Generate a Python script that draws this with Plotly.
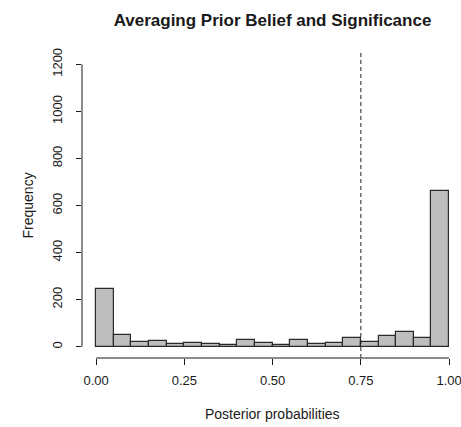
import plotly.graph_objects as go

bin_left = [0.00, 0.05, 0.10, 0.15, 0.20, 0.25, 0.30, 0.35, 0.40, 0.45,
            0.50, 0.55, 0.60, 0.65, 0.70, 0.75, 0.80, 0.85, 0.90, 0.95]
counts = [245, 51, 21, 24, 11, 16, 11, 7, 28, 16,
          9, 28, 12, 16, 38, 19, 46, 61, 35, 662]
bin_width = 0.05
threshold = 0.75

x_ticks = [0.0, 0.25, 0.5, 0.75, 1.0]
x_ticklabels = ["0.00", "0.25", "0.50", "0.75", "1.00"]
y_ticks = [0, 200, 400, 600, 800, 1000, 1200]

FONT = "Liberation Sans, Arial, sans-serif"
INK = "#1a1a1a"

fig = go.Figure()
fig.add_trace(go.Bar(
    x=bin_left, y=counts, width=[bin_width] * len(bin_left), offset=0,
    marker=dict(color="#bebebe", line=dict(color="#2a2a2a", width=1.2)),
    showlegend=False, hoverinfo="y",
))

W, H = 461, 427
ml, mr, mt = 82, 0, 53
mb = H - 358
pw = W - ml - mr
ph = H - mt - mb
px_per_unit = 353.0
x0 = -0.04
fig.update_layout(
    width=W, height=H,
    margin=dict(l=ml, r=mr, t=mt, b=mb, pad=0, autoexpand=False),
    paper_bgcolor="white", plot_bgcolor="white",
    bargap=0,
    font=dict(family=FONT, color=INK, size=13),
    title=dict(text="<b>Averaging Prior Belief and Significance</b>",
               x=272.5 / W, xanchor="center", xref="container",
               y=1 - 20 / H, yanchor="middle", yref="container", automargin=False,
               font=dict(size=17, family=FONT, color=INK)),
    xaxis=dict(range=[x0, x0 + pw / px_per_unit], tickvals=x_ticks, ticktext=x_ticklabels,
               showgrid=False, zeroline=False, showline=False, automargin=False,
               ticks="outside", ticklen=6, tickwidth=1, tickcolor=INK,
               ticklabelstandoff=4, ticklabeloverflow="allow", tickfont=dict(size=13)),
    yaxis=dict(range=[-48, 1248], tickvals=y_ticks,
               showgrid=False, zeroline=False, showline=False, automargin=False,
               ticks="outside", ticklen=5, tickwidth=1, tickcolor=INK,
               tickangle=-90, ticklabelstandoff=9, ticklabeloverflow="allow",
               tickfont=dict(size=13)),
    annotations=[
        dict(text="Posterior probabilities", xref="paper", yref="paper",
             x=(272.5 - ml) / pw, y=-(414 - 358) / ph, xanchor="center", yanchor="middle",
             showarrow=False, font=dict(size=14)),
        dict(text="Frequency", xref="paper", yref="paper",
             x=-(ml - 27) / pw, y=0.5, xanchor="center", yanchor="middle",
             textangle=-90, showarrow=False, font=dict(size=14)),
    ],
    shapes=[
        dict(type="line", xref="x", yref="paper", x0=x_ticks[0], x1=x_ticks[-1], y0=0, y1=0,
             line=dict(color=INK, width=1)),
        dict(type="line", xref="paper", yref="y", x0=0, x1=0, y0=y_ticks[0], y1=y_ticks[-1],
             line=dict(color=INK, width=1)),
        dict(type="line", xref="x", yref="paper", x0=threshold, x1=threshold, y0=0, y1=1,
             line=dict(color="#222222", width=1, dash="4px,3px")),
    ],
)

fig.write_html(
    "out.html",
    config={"displayModeBar": False},
    post_script="document.body.style.margin='0';document.body.style.overflow='hidden';",
)
